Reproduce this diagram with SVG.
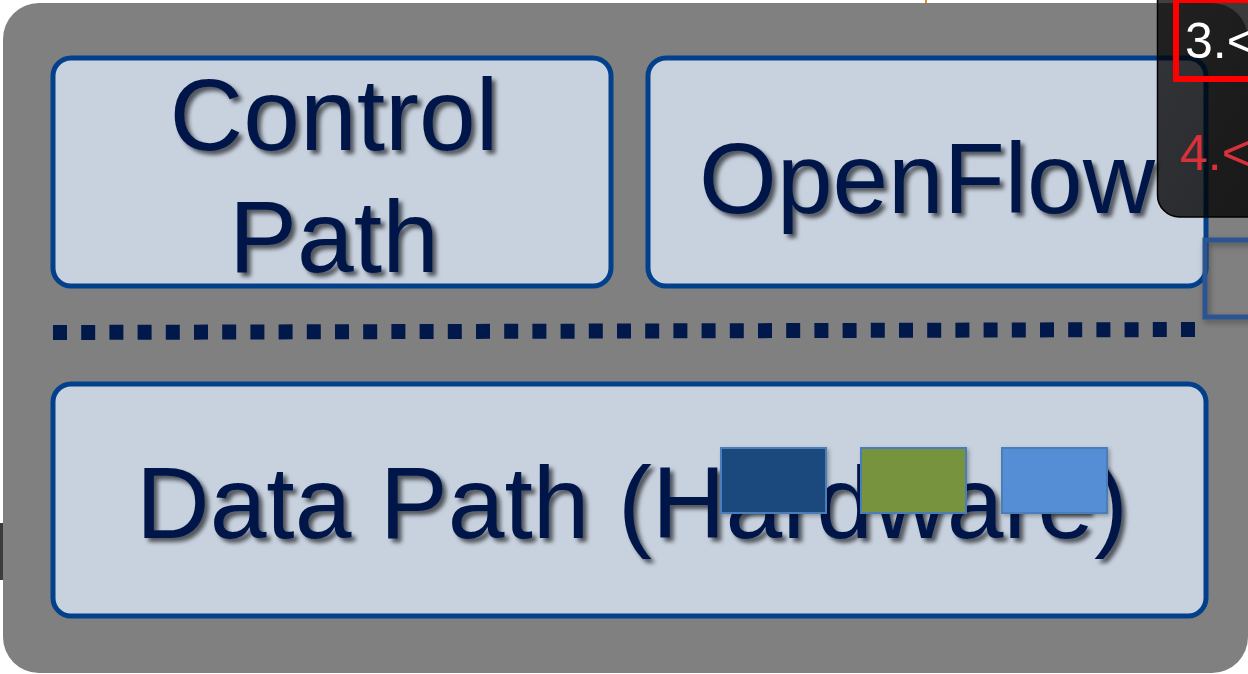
<svg xmlns="http://www.w3.org/2000/svg" width="1248" height="674" viewBox="0 0 1248 674">
  <style>
    .box { fill: #c8d2df; stroke: #02408c; stroke-width: 5; }
    .label { font-family: "Liberation Sans", Arial, sans-serif; font-size: 102px; fill: #00194a; text-anchor: middle; filter: url(#textShadow); }
    .chip { stroke: #4a7ebb; stroke-width: 2; filter: url(#chipShadow); }
    .menu { font-family: "Liberation Sans", Arial, sans-serif; font-size: 50px; }
  </style>
  <defs>
    <filter id="textShadow" x="-10%" y="-20%" width="120%" height="150%">
      <feDropShadow dx="4" dy="4" stdDeviation="2" flood-color="#000" flood-opacity="0.6"/>
    </filter>
    <filter id="chipShadow" x="-10%" y="-10%" width="130%" height="140%">
      <feDropShadow dx="2" dy="2" stdDeviation="2" flood-color="#000" flood-opacity="0.3"/>
    </filter>
    <filter id="frameShadow" x="-10%" y="-10%" width="130%" height="140%">
      <feDropShadow dx="2" dy="3" stdDeviation="3" flood-color="#000" flood-opacity="0.35"/>
    </filter>
    <linearGradient id="panelFill" x1="0" y1="0" x2="1" y2="1">
      <stop offset="0" stop-color="#000" stop-opacity="0.74"/>
      <stop offset="1" stop-color="#000" stop-opacity="0.82"/>
    </linearGradient>
  </defs>

  <!-- page and switch body -->
  <rect x="0" y="0" width="1248" height="674" fill="#ffffff"/>
  <rect x="3" y="3" width="1245" height="670" rx="36" fill="#808080"/>
  <rect x="0" y="523" width="3" height="57" fill="#3c3c3c"/>
  <rect x="925" y="0" width="2" height="3" fill="#f08a1c"/>

  <!-- control plane nodes -->
  <g id="control-path">
    <rect class="box" x="53" y="58" width="558" height="228" rx="18"/>
    <text class="label" x="334" y="150">Control</text>
    <text class="label" x="334" y="272">Path</text>
  </g>
  <g id="openflow">
    <rect class="box" x="648" y="58" width="558" height="228" rx="18"/>
    <text class="label" x="927" y="213" style="font-size:100px">OpenFlow</text>
  </g>

  <!-- separator between control and data plane -->
  <g id="connectors">
    <line x1="53" y1="332.5" x2="1195" y2="329.5" stroke="#00194a" stroke-width="15" stroke-dasharray="14 14.2"/>
  </g>

  <!-- data plane node -->
  <g id="data-path">
    <rect class="box" x="53" y="384" width="1153" height="232" rx="18"/>
    <text class="label" x="632" y="538">Data Path (Hardware)</text>
    <rect class="chip" x="721" y="448" width="105" height="65" fill="#1f497d"/>
    <rect class="chip" x="861" y="448" width="105" height="65" fill="#77933c"/>
    <rect class="chip" x="1002" y="448" width="105" height="65" fill="#558ed5"/>
  </g>

  <!-- partly visible frame at right edge -->
  <g id="side-frame">
    <rect x="1205" y="240" width="80" height="77" fill="none" stroke="#2a5590" stroke-width="5" filter="url(#frameShadow)"/>
  </g>

  <!-- overlay panel -->
  <g id="overlay-panel">
    <rect x="1157.5" y="-30" width="140" height="247" rx="22" fill="url(#panelFill)" stroke="#000" stroke-width="1.5"/>
    <rect x="1176" y="0" width="100" height="79" fill="none" stroke="#ff0000" stroke-width="6"/>
    <text class="menu" x="1185" y="58" fill="#ffffff">3.&lt;</text>
    <text class="menu" x="1180" y="170" fill="#d9313a">4.&lt;</text>
  </g>
</svg>
